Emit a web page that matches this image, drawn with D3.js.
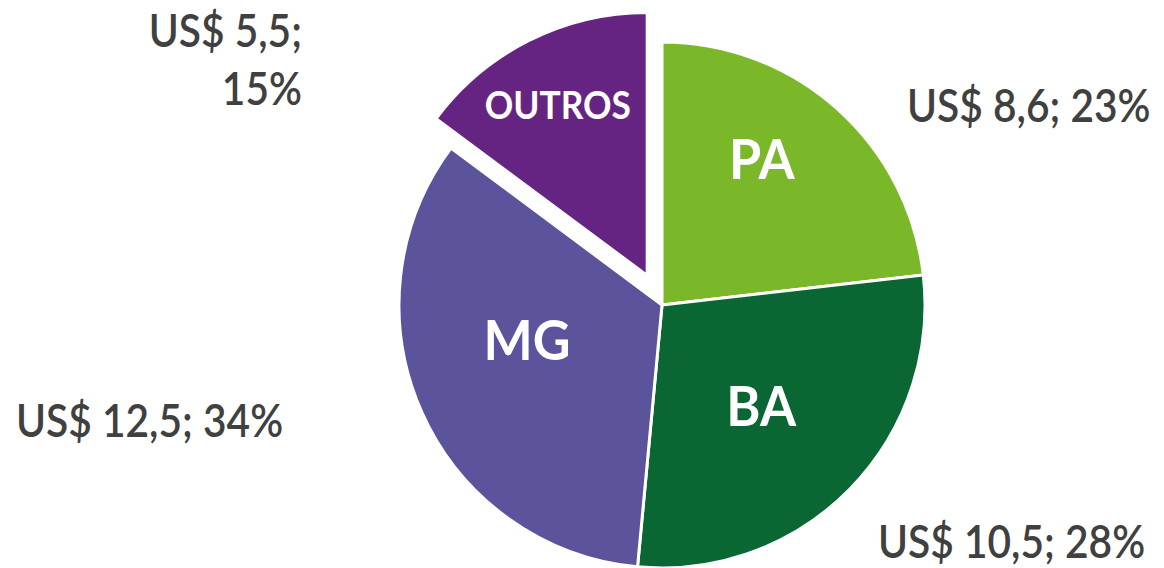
<!DOCTYPE html>
<html>
<head>
<meta charset="utf-8">
<script src="https://cdn.jsdelivr.net/npm/d3@7"></script>
<style>
  html, body { margin: 0; padding: 0; background: #fff; }
  #chart { width: 1164px; height: 568px; }
  text { font-family: Lato, "Open Sans", sans-serif; }
</style>
</head>
<body>
<div id="chart"></div>
<script>
// chart data
const categories = ["PA", "BA", "MG", "OUTROS"];
const values = [8.6, 10.5, 12.5, 5.5];
const shares = [23, 28, 34, 15];

const colors = ["#7ab829", "#0a6632", "#5c539d", "#662482"];

function build_pie_chart() {
    const width = 1164, height = 568;
    const cx = 662, cy = 305, radius = 263;
    const explode = 33;        // OUTROS slice pulled out
    const textColor = "#404040";
    const squeeze = 0.865;     // labels are drawn a bit condensed

    const data = categories.map((c, i) => ({cat: c, value: values[i], share: shares[i]}));

    const color = d3.scaleOrdinal().domain(categories).range(colors);

    const svg = d3.select("#chart").append("svg")
        .attr("width", width)
        .attr("height", height);

    const g = svg.append("g")
        .attr("transform", "translate(" + cx + "," + cy + ")");

    const pie = d3.pie().sort(null).value(d => d.value);
    const arc = d3.arc().innerRadius(0).outerRadius(radius);
    const arcs = pie(data);

    // offset of a slice (only OUTROS is exploded)
    const offset = d => {
        if (d.data.cat !== "OUTROS") return [0, 0];
        const a = (d.startAngle + d.endAngle) / 2;
        return [Math.sin(a) * explode, -Math.cos(a) * explode];
    };

    const slices = g.selectAll(".slice").data(arcs)
        .enter()
        .append("g")
        .attr("class", "slice")
        .attr("transform", d => "translate(" + offset(d) + ")");

    slices.append("path")
        .attr("d", arc)
        .attr("fill", d => color(d.data.cat))
        .attr("stroke", "#fff")
        .attr("stroke-width", 3)
        .attr("stroke-linejoin", "round");

    // labels inside the slices
    const labelNudge = {PA: [0, -34], BA: [-8, -4], MG: [2, -26], OUTROS: [-22, -36]};
    const inner = d3.arc().innerRadius(150).outerRadius(150);
    slices.append("text")
        .attr("transform", d => {
            const c = inner.centroid(d), n = labelNudge[d.data.cat];
            return "translate(" + (c[0] + n[0]) + "," + (c[1] + n[1]) + ") scale(0.93,1)";
        })
        .attr("text-anchor", "middle")
        .attr("dy", "0.36em")
        .attr("fill", "#fff")
        .attr("font-weight", "bold")
        .attr("font-size", d => d.data.cat === "OUTROS" ? 38 : 56)
        .text(d => d.data.cat);

    // outer value labels
    const fmt = v => "US$ " + String(v).replace(".", ",");
    const outer = {
        PA: {x: 907, y: 122, anchor: "start", lines: 1},
        BA: {x: 878, y: 558, anchor: "start", lines: 1},
        MG: {x: 16, y: 437, anchor: "start", lines: 1},
        OUTROS: {x: 302, y: 47, anchor: "end", lines: 2}
    };

    data.forEach(d => {
        const p = outer[d.cat];
        const t = svg.append("text")
            .attr("transform", "translate(" + p.x + "," + p.y + ") scale(" + squeeze + ",1)")
            .attr("text-anchor", p.anchor)
            .attr("fill", textColor)
            .attr("font-weight", 600)
            .attr("font-size", 47);
        if (p.lines === 1) {
            t.text(fmt(d.value) + "; " + d.share + "%");
        } else {
            t.append("tspan").attr("x", 0).text(fmt(d.value) + ";");
            t.append("tspan").attr("x", 0).attr("dy", 58).text(d.share + "%");
        }
    });
}

build_pie_chart();
</script>
</body>
</html>
